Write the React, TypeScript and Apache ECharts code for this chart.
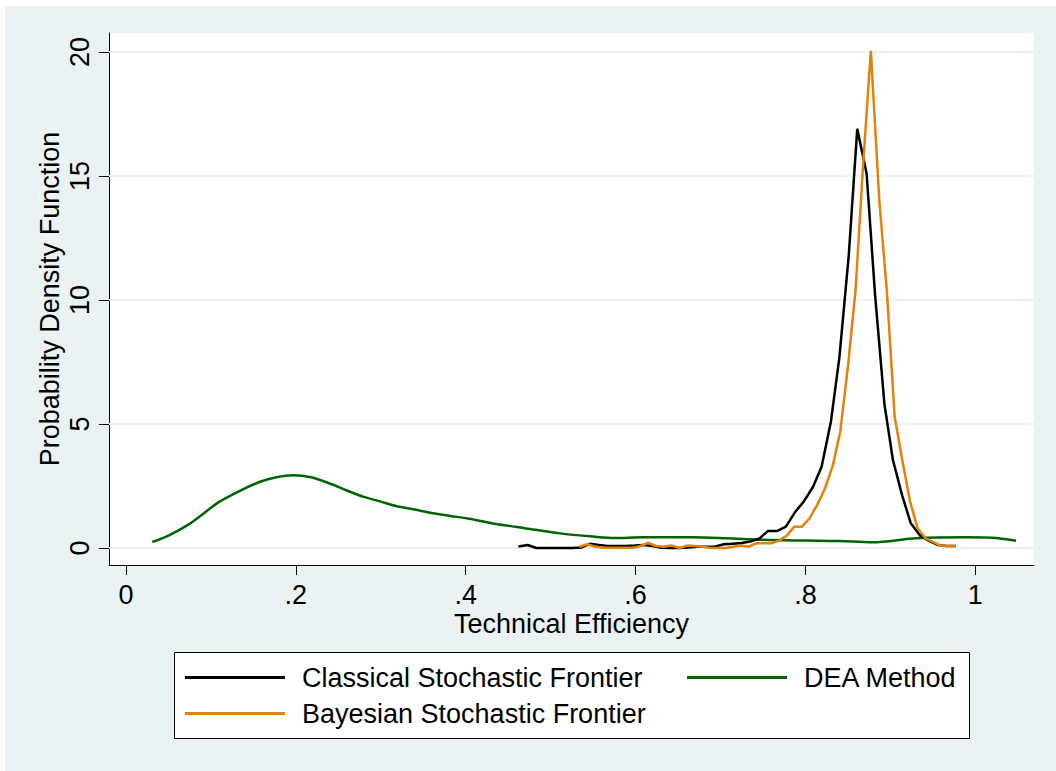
import React, { useEffect, useRef } from "react";
import * as echarts from "echarts";

const FONT = '"Liberation Sans", Arial, Helvetica, sans-serif';
const FS = 27;

const xTicks = [0, 0.2, 0.4, 0.6, 0.8, 1];
const yTicks = [0, 5, 10, 15, 20];

const seriesNames = [
  "Classical Stochastic Frontier",
  "Bayesian Stochastic Frontier",
  "DEA Method",
];

const classical: [number, number][] = [
  [0.462, 0.06], [0.473, 0.12], [0.483, 0.0], [0.494, 0.0], [0.504, 0.0],
  [0.515, 0.0], [0.525, 0.0], [0.536, 0.02], [0.546, 0.17], [0.557, 0.12],
  [0.567, 0.08], [0.578, 0.08], [0.588, 0.08], [0.599, 0.1], [0.609, 0.12],
  [0.62, 0.08], [0.63, 0.01], [0.641, 0.0], [0.651, 0.0], [0.662, 0.02],
  [0.672, 0.05], [0.683, 0.05], [0.693, 0.05], [0.704, 0.15], [0.714, 0.17],
  [0.725, 0.2], [0.735, 0.26], [0.746, 0.39], [0.756, 0.69], [0.767, 0.69],
  [0.777, 0.86], [0.788, 1.46], [0.798, 1.87], [0.809, 2.47], [0.819, 3.28],
  [0.83, 5.1], [0.84, 7.7], [0.851, 11.8], [0.861, 16.9], [0.872, 15.1],
  [0.882, 10.2], [0.893, 5.8], [0.903, 3.55], [0.914, 2.1], [0.924, 1.0],
  [0.935, 0.5], [0.945, 0.3], [0.956, 0.12], [0.966, 0.08], [0.977, 0.08],
];

const bayesian: [number, number][] = [
  [0.534, 0.05], [0.543, 0.15], [0.552, 0.06], [0.561, 0.01], [0.57, 0.01],
  [0.579, 0.01], [0.588, 0.01], [0.597, 0.01], [0.606, 0.08], [0.615, 0.21],
  [0.624, 0.08], [0.633, 0.05], [0.642, 0.1], [0.652, 0.0], [0.661, 0.1],
  [0.67, 0.08], [0.679, 0.05], [0.688, 0.0], [0.697, 0.0], [0.706, 0.0],
  [0.715, 0.05], [0.724, 0.1], [0.733, 0.05], [0.742, 0.19], [0.751, 0.19],
  [0.76, 0.19], [0.769, 0.3], [0.778, 0.5], [0.787, 0.86], [0.796, 0.86],
  [0.805, 1.2], [0.814, 1.75], [0.823, 2.4], [0.832, 3.3], [0.841, 4.7],
  [0.85, 7.3], [0.859, 10.4], [0.868, 15.5], [0.877, 20.05], [0.887, 14.0],
  [0.896, 10.3], [0.905, 5.3], [0.914, 3.55], [0.923, 1.9], [0.932, 0.8],
  [0.941, 0.4], [0.95, 0.25], [0.959, 0.1], [0.968, 0.08], [0.977, 0.08],
];

const dea: [number, number][] = [
  [0.031, 0.24], [0.05, 0.5], [0.073, 0.93], [0.09, 1.35], [0.107, 1.8],
  [0.134, 2.3], [0.158, 2.67], [0.177, 2.85], [0.197, 2.93], [0.218, 2.85],
  [0.24, 2.6], [0.26, 2.32], [0.279, 2.07], [0.3, 1.87], [0.318, 1.69],
  [0.34, 1.55], [0.358, 1.42], [0.38, 1.3], [0.404, 1.18], [0.432, 0.99],
  [0.471, 0.79], [0.511, 0.59], [0.55, 0.46], [0.575, 0.4], [0.609, 0.43],
  [0.667, 0.43], [0.707, 0.39], [0.75, 0.33], [0.8, 0.3], [0.84, 0.28],
  [0.879, 0.23], [0.93, 0.39], [0.99, 0.43], [1.02, 0.41], [1.048, 0.29],
];

const colors = ["#000000", "#e3820a", "#006400"];

function fmtX(v: number) {
  if (v === 0) return "0";
  if (v === 1) return "1";
  return String(Math.round(v * 10) / 10).replace(/^0/, "");
}

export default function App() {
  const ref = useRef<HTMLDivElement>(null);
  useEffect(() => {
    if (!ref.current) return;
    const chart = echarts.init(ref.current, null, { renderer: "svg" });
    const legendCommon = {
      orient: "vertical",
      top: 658,
      padding: 0,
      itemWidth: 100,
      itemHeight: 3,
      itemGap: 9,
      icon: "rect",
      selectedMode: false,
      z: 5,
      textStyle: {
        fontSize: FS,
        color: "#000",
        fontFamily: FONT,
        lineHeight: 27,
        padding: [0, 0, 0, 12],
      },
    };
    const option: any = {
      animation: false,
      backgroundColor: "#eaf2f3",
      textStyle: { fontFamily: FONT },
      grid: {
        left: 104,
        top: 27,
        width: 925,
        height: 532,
        show: true,
        backgroundColor: "#ffffff",
        borderWidth: 0,
      },
      xAxis: {
        type: "value",
        min: -0.02,
        max: 1.0691,
        axisLine: { show: true, onZero: false, lineStyle: { color: "#000", width: 1 } },
        axisTick: { show: true, length: 10, customValues: xTicks, lineStyle: { color: "#000", width: 1 } },
        axisLabel: {
          customValues: xTicks,
          formatter: fmtX,
          fontSize: FS,
          lineHeight: 20,
          color: "#000",
          fontFamily: FONT,
          margin: 20,
        },
        splitLine: { show: false },
      },
      yAxis: {
        type: "value",
        min: -0.6855,
        max: 20.766,
        axisLine: { show: true, onZero: false, lineStyle: { color: "#000", width: 1 } },
        axisTick: { show: true, length: 10, customValues: yTicks, lineStyle: { color: "#000", width: 1 } },
        axisLabel: {
          customValues: yTicks,
          formatter: (v: number) => String(v),
          rotate: 90,
          fontSize: FS,
          lineHeight: 27,
          color: "#000",
          fontFamily: FONT,
          margin: 16,
        },
        splitLine: { show: false },
      },
      legend: [
        { ...legendCommon, left: 180, data: [seriesNames[0], seriesNames[1]] },
        { ...legendCommon, left: 682, data: [seriesNames[2]] },
      ],
      graphic: [
        {
          type: "rect",
          z: 1,
          shape: { x: 169.5, y: 646.5, width: 795, height: 86 },
          style: { fill: "#ffffff", stroke: "#000", lineWidth: 1 },
        },
        {
          type: "text",
          x: 45,
          y: 293,
          rotation: Math.PI / 2,
          style: {
            text: "Probability Density Function",
            fontSize: FS,
            fontFamily: FONT,
            fill: "#000",
            align: "center",
            verticalAlign: "middle",
          },
        },
        {
          type: "text",
          x: 566.5,
          y: 618,
          style: {
            text: "Technical Efficiency",
            fontSize: FS,
            lineHeight: 20,
            fontFamily: FONT,
            fill: "#000",
            align: "center",
            verticalAlign: "middle",
          },
        },
      ],
      series: [
        {
          name: "grid",
          type: "line",
          z: 1,
          data: [],
          silent: true,
          markLine: {
            z: 1,
            silent: true,
            symbol: "none",
            label: { show: false },
            lineStyle: { color: "#eaf2f3", width: 2, type: "solid" },
            data: yTicks.map((v) => ({ yAxis: v })),
          },
        },
        {
          name: seriesNames[2],
          type: "line",
          z: 2,
          data: dea,
          showSymbol: false,
          symbol: "none",
          smooth: 0.3,
          color: colors[2],
          lineStyle: { color: colors[2], width: 2.5 },
        },
        {
          name: seriesNames[0],
          type: "line",
          z: 3,
          data: classical,
          showSymbol: false,
          symbol: "none",
          color: colors[0],
          lineStyle: { color: colors[0], width: 2.5 },
        },
        {
          name: seriesNames[1],
          type: "line",
          z: 4,
          data: bayesian,
          showSymbol: false,
          symbol: "none",
          color: colors[1],
          lineStyle: { color: colors[1], width: 2.5 },
        },
      ],
    };
    chart.setOption(option);
    return () => chart.dispose();
  }, []);
  return (
    <div style={{ position: "absolute", left: 0, top: 0, width: 1056, height: 771, background: "#fff" }}>
      <div ref={ref} style={{ position: "absolute", left: 5, top: 6, width: 1051, height: 765 }} />
    </div>
  );
}
